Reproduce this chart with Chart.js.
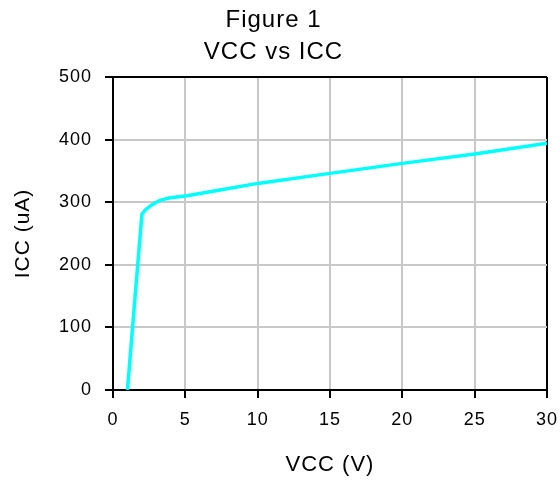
<!DOCTYPE html>
<html><head><meta charset="utf-8">
<script src="https://cdn.jsdelivr.net/npm/chart.js@4"></script>
<style>html,body{margin:0;padding:0;background:#fff}#wrap{width:560px;height:483px}</style>
</head><body><div id="wrap"><canvas id="c" width="560" height="483"></canvas></div>
<script>
const vcc = [1.0, 1.5, 2.0, 2.25, 2.7, 3.25, 3.95, 5, 7, 10, 15, 20, 25, 30];
const icc = [0, 142, 281, 288, 296, 303, 307, 310, 318, 330, 346, 362, 377, 394];
const xTickValues = [0, 5, 10, 15, 20, 25, 30];
const yTickValues = [0, 100, 200, 300, 400, 500];
const titleLines = ['Figure 1', 'VCC vs ICC'];
const xTitle = 'VCC (V)';
const yTitle = 'ICC (uA)';

const FAMILY = '"Liberation Sans", Arial, sans-serif';
const spacing = {
  id: 'spacing',
  beforeLayout(c) { c.ctx.letterSpacing = '1px'; },
  beforeDraw(c) { c.ctx.letterSpacing = '1px'; }
};

new Chart(document.getElementById('c'), {
  type: 'line',
  data: {
    datasets: [{
      data: vcc.map((v, i) => ({x: v, y: icc[i]})),
      borderColor: '#00FFFF',
      borderWidth: 3.5,
      pointRadius: 0,
      tension: 0,
      fill: false
    }]
  },
  options: {
    responsive: false,
    animation: false,
    layout: {padding: {top: 0, left: 0, right: 13, bottom: 0}},
    plugins: {
      legend: {display: false},
      tooltip: {enabled: false},
      title: {
        display: true,
        text: titleLines,
        color: '#000',
        font: {family: FAMILY, size: 24, weight: 'normal', lineHeight: 1.32},
        padding: {top: 5, bottom: 8.6}
      }
    },
    scales: {
      x: {
        type: 'linear',
        min: 0, max: 30,
        afterBuildTicks: s => { s.ticks = xTickValues.map(v => ({value: v})); },
        afterFit: s => { s.height = 93; s.paddingLeft = 0; s.paddingRight = 0; },
        border: {color: '#000', width: 2},
        grid: {
          color: c => (c.tick && c.tick.value === 30) ? '#000' : '#c8c8c8',
          lineWidth: 2,
          tickColor: '#000',
          tickLength: 8
        },
        ticks: {color: '#000', padding: 11, maxRotation: 0, font: {family: FAMILY, size: 18}},
        title: {
          display: true, text: xTitle, color: '#000',
          font: {family: FAMILY, size: 22}, padding: {top: 0, bottom: 4.8}
        }
      },
      y: {
        min: 0, max: 500,
        afterBuildTicks: s => { s.ticks = yTickValues.map(v => ({value: v})); },
        afterFit: s => { s.width = 113; s.paddingTop = 0; s.paddingBottom = 0; },
        border: {color: '#000', width: 2},
        grid: {
          color: c => (c.tick && c.tick.value === 500) ? '#000' : '#c8c8c8',
          lineWidth: 2,
          tickColor: '#000',
          tickLength: 8
        },
        ticks: {color: '#000', padding: 13, font: {family: FAMILY, size: 18}},
        title: {
          display: true, text: yTitle, color: '#000',
          font: {family: FAMILY, size: 21}, padding: {top: 11, bottom: 0}
        }
      }
    }
  },
  plugins: [spacing]
});
</script></body></html>
